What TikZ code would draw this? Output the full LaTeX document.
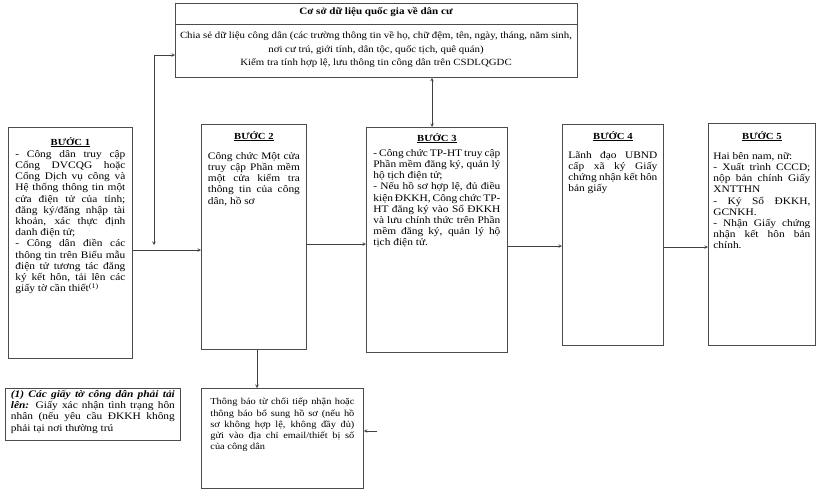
\documentclass[tikz,border=0pt]{standalone}
\usepackage{fontspec}
\setmainfont{Liberation Serif}[FakeStretch=1.14]
\usetikzlibrary{arrows}
\hyphenpenalty=10000
\tikzstyle{stepbox} = [rectangle, draw=black!70, line width=0.8pt, anchor=north west, inner sep=0pt]
\tikzstyle{steptext} = [anchor=north, align=justify, inner sep=0pt, font=\fontsize{10}{11.2}\selectfont]
\tikzstyle{arrow} = [line width=0.6pt, draw=black!75, ->, >=stealth]
\newcommand{\buoc}[2][4pt]{{\centering\fontsize{9.3}{11}\selectfont\textbf{\underline{BƯỚC #2}}\par}\vspace{#1}}

\begin{document}
\begin{tikzpicture}[x=1pt, y=-1pt]
    \useasboundingbox (0,0) rectangle (820,496);
    %co so du lieu quoc gia
    \node (csdl) [stepbox, minimum width=402, minimum height=74] at (175,3) {};
    \draw [draw=black!70, line width=0.8pt] (csdl.west |- 0,24) -- (csdl.east |- 0,24);
    \node (csdlten) [font=\fontsize{9.7}{12}\selectfont\bfseries] at (376,12) {Cơ sở dữ liệu quốc gia về dân cư};
    \node (csdltext) [anchor=north, align=center, inner sep=0pt, font=\fontsize{9.5}{13.5}\selectfont] at (376,31.5)
        {Chia sẻ dữ liệu công dân (các trường thông tin về họ, chữ đệm, tên, ngày, tháng, năm sinh,\\
         nơi cư trú, giới tính, dân tộc, quốc tịch, quê quán)\\
         Kiểm tra tính hợp lệ, lưu thông tin công dân trên CSDLQGDC};

    %cac buoc
    \node (b1) [stepbox, minimum width=124, minimum height=231] at (8,127) {};
    \node (b1text) [steptext, text width=110] at ([yshift=-10]b1.north)
        {\buoc[1pt]{1}- Công dân truy cập Cổng DVCQG hoặc Cổng Dịch vụ công và Hệ thống thông tin một cửa điện tử của tỉnh; đăng ký/đăng nhập tài khoản, xác thực định danh điện tử;\par
         - Công dân điền các thông tin trên Biểu mẫu điện tử tương tác đăng ký kết hôn, tải lên các giấy tờ cần thiết\textsuperscript{(1)}};
    \node (b2) [stepbox, minimum width=105, minimum height=225] at (201,124) {};
    \node (b2text) [steptext, text width=92] at ([yshift=-7]b2.north)
        {\buoc[9pt]{2}Công chức Một cửa truy cập Phần mềm một cửa kiểm tra thông tin của công dân, hồ sơ};
    \node (b3) [stepbox, minimum width=141, minimum height=225] at (366,127) {};
    \node (b3text) [steptext, text width=127] at ([yshift=-6]b3.north)
        {\buoc{3}- Công chức TP-HT truy cập Phần mềm đăng ký, quản lý hộ tịch điện tử;\par
         - Nếu hồ sơ hợp lệ, đủ điều kiện ĐKKH, Công chức TP-HT đăng ký vào Sổ ĐKKH và lưu chính thức trên Phần mềm đăng ký, quản lý hộ tịch điện tử.};
    \node (b4) [stepbox, minimum width=101, minimum height=221] at (562,124) {};
    \node (b4text) [steptext, text width=89] at ([yshift=-7]b4.north)
        {\buoc[8pt]{4}Lãnh đạo UBND cấp xã ký Giấy chứng nhận kết hôn bản giấy};
    \node (b5) [stepbox, minimum width=107, minimum height=222] at (708,123) {};
    \node (b5text) [steptext, text width=97] at ([yshift=-8]b5.north)
        {\buoc[9pt]{5}Hai bên nam, nữ:\par
         - Xuất trình CCCD; nộp bản chính Giấy XNTTHN\par
         - Ký Sổ ĐKKH, GCNKH.\par
         - Nhận Giấy chứng nhận kết hôn bản chính.};

    %ghi chu va thong bao
    \node (ghichu) [stepbox, minimum width=175, minimum height=52] at (5,388) {};
    \node (ghichutext) [steptext, text width=164] at ([yshift=-2]ghichu.north)
        {\textbf{\textit{(1) Các giấy tờ công dân phải tải lên:}} Giấy xác nhận tình trạng hôn nhân (nếu yêu cầu ĐKKH không phải tại nơi thường trú};
    \node (tuchoi) [stepbox, minimum width=162, minimum height=100] at (201,388) {};
    \node (tuchoitext) [steptext, text width=144, font=\fontsize{9.1}{11.3}\selectfont] at ([yshift=-10]tuchoi.north)
        {Thông báo từ chối tiếp nhận hoặc thông báo bổ sung hồ sơ (nếu hồ sơ không hợp lệ, không đầy đủ) gửi vào địa chỉ email/thiết bị số\linebreak của công dân};

    %noi cac buoc
    \coordinate (nhanh1) at (154,245);
    \coordinate (nhanh2) at (377,431);
    \draw [arrow] (b1.east |- 0,250) -- (b2.west |- 0,250);
    \draw [arrow, <->] (nhanh1) |- (csdl.west |- 0,55);
    \draw [arrow, <->] (csdl.south -| 432,0) -- (b3.north -| 432,0);
    \draw [arrow] (b2.east |- 0,244) -- (b3.west |- 0,244);
    \draw [arrow] (b3.east |- 0,246) -- (b4.west |- 0,246);
    \draw [arrow] (b4.east |- 0,247) -- (b5.west |- 0,247);
    \draw [arrow] (b2.south -| 257,0) -- (tuchoi.north -| 257,0);
    \draw [arrow] (nhanh2) -- (tuchoi.east |- nhanh2);
\end{tikzpicture}
\end{document}
